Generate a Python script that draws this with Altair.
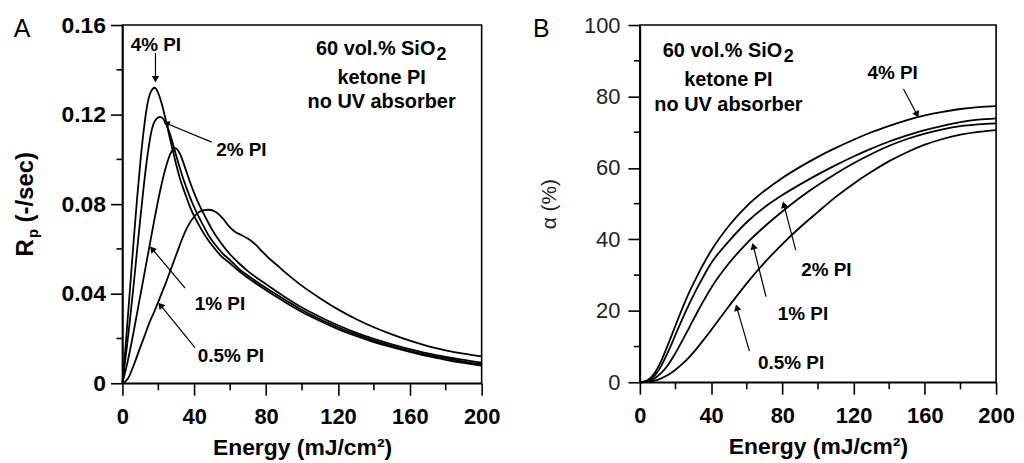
import math
import altair as alt
import pandas as pd

FONT = "Liberation Sans"

# ---------------- Panel A : Rp vs energy ----------------
E4A = [0, 2, 4, 6, 8, 10, 12, 14, 16, 18, 20, 22, 24, 26, 28, 30, 32, 35, 38, 42, 46, 50, 55,
       60, 65, 70, 80, 90, 100, 110, 120, 130, 140, 150, 160, 170, 180, 190, 200]
R4A = [0, 0.019, 0.040, 0.061, 0.081, 0.099, 0.114, 0.125, 0.1305, 0.132, 0.1295, 0.1245, 0.118,
       0.111, 0.104, 0.0975, 0.0915, 0.0845, 0.078, 0.0715, 0.066, 0.0615, 0.0568,
       0.0535, 0.050, 0.047, 0.0415, 0.0365, 0.0318, 0.0278, 0.0242, 0.0211, 0.0184, 0.0161,
       0.0140, 0.0121, 0.0105, 0.0091, 0.0079]

E2A = [0, 2, 4, 6, 8, 10, 12, 14, 16, 18, 21, 24, 27, 30, 33, 36, 40, 44, 48, 52, 56,
       60, 65, 70, 80, 90, 100, 110, 120, 130, 140, 150, 160, 170, 180, 190, 200]
R2A = [0, 0.013, 0.027, 0.042, 0.058, 0.074, 0.089, 0.102, 0.112, 0.117, 0.119, 0.1165, 0.110,
       0.1015, 0.0935, 0.0865, 0.0785, 0.072, 0.066, 0.0615, 0.0578,
       0.055, 0.051, 0.048, 0.0425, 0.0375, 0.0327, 0.0286, 0.0250, 0.0218, 0.0190, 0.0166,
       0.0145, 0.0127, 0.0111, 0.0097, 0.0085]

E1A = [0, 3, 6, 9, 12, 15, 18, 21, 24, 27, 29.5, 32, 35, 38, 42, 46, 50, 55,
       60, 65, 70, 80, 90, 100, 110, 120, 130, 140, 150, 160, 170, 180, 190, 200]
R1A = [0, 0.010, 0.022, 0.035, 0.048, 0.061, 0.074, 0.086, 0.096, 0.103, 0.105, 0.1025, 0.096,
       0.089, 0.081, 0.0745, 0.0685, 0.0625,
       0.0575, 0.0535, 0.050, 0.0442, 0.0388, 0.0338, 0.0296, 0.0259, 0.0226, 0.0198, 0.0174,
       0.0153, 0.0134, 0.0118, 0.0104, 0.0092]

E05A = [0, 3, 6, 9, 12, 15, 18, 21, 24, 27, 30, 33, 36, 40, 44, 48, 52, 56, 60, 63, 66, 70,
        74, 78, 82, 86, 90, 100, 110, 120, 130, 140, 150, 160, 170, 180, 190, 200]
R05A = [0, 0.002, 0.0075, 0.014, 0.0205, 0.027, 0.0325, 0.0385, 0.0445, 0.051, 0.0575, 0.064,
        0.0695, 0.0745, 0.077, 0.0775, 0.0765, 0.0735, 0.0695, 0.0675, 0.0663, 0.0645,
        0.062, 0.0587, 0.0555, 0.0528, 0.050, 0.0435, 0.0380, 0.0330, 0.0287, 0.0250, 0.0218,
        0.0190, 0.0166, 0.0147, 0.0132, 0.0120]

# ---------------- Panel B : conversion vs energy ----------------
EB = [0, 4, 8, 12, 16, 20, 24, 28, 32, 36, 40, 50, 60, 70, 80, 90, 100, 110, 120, 130, 140,
      150, 160, 170, 180, 190, 200]
C4B = [0, 0.5, 2.4, 6.0, 10.8, 15.9, 20.9, 25.5, 29.6, 33.4, 36.8, 43.8, 49.3, 53.6, 57.2,
       60.3, 63.1, 65.6, 67.9, 70.0, 71.8, 73.4, 74.7, 75.7, 76.5, 77.0, 77.3]
C2B = [0, 0.3, 1.7, 4.6, 8.7, 13.3, 17.9, 22.2, 26.2, 29.9, 33.3, 39.5, 44.8, 49.0, 52.4,
       55.4, 58.2, 60.8, 63.2, 65.4, 67.4, 69.1, 70.6, 71.8, 72.8, 73.5, 73.9]
C1B = [0, 0.2, 1.0, 2.6, 5.0, 8.2, 11.8, 15.6, 19.4, 23.0, 26.4, 33.3, 38.9, 43.6, 47.8,
       51.7, 55.2, 58.4, 61.3, 63.9, 66.2, 68.1, 69.6, 70.8, 71.7, 72.2, 72.5]
C05B = [0, 0.1, 0.4, 1.1, 2.1, 3.5, 5.2, 7.2, 9.5, 12.0, 14.6, 21.3, 27.7, 33.5, 38.7,
        43.4, 47.7, 51.9, 55.6, 58.9, 61.9, 64.4, 66.5, 68.1, 69.3, 70.1, 70.6]

SERIES = ["4% PI", "2% PI", "1% PI", "0.5% PI"]

# major / minor tick values
X_MAJOR = [0, 40, 80, 120, 160, 200]
X_MINOR = [20, 60, 100, 140, 180]
YA_MAJOR = [0, 0.04, 0.08, 0.12, 0.16]
YA_MINOR = [0.02, 0.06, 0.10, 0.14]
YB_MAJOR = [0, 20, 40, 60, 80, 100]
YB_MINOR = [10, 30, 50, 70, 90]

# annotation labels and arrows (x_from, y_from, x_tip, y_tip)
LAB_A_X = [18.6, 66.2, 54.3, 60.4]
LAB_A_Y = [0.1511, 0.1042, 0.0353, 0.0122]
ARR_A = [(18.4, 0.1475, 18.4, 0.1345), (49.7, 0.1077, 22.9, 0.1166),
         (34.9, 0.0425, 15.5, 0.0610), (40.4, 0.0159, 20.1, 0.0359)]

LAB_B_X = [141.9, 104.7, 91.6, 84.9]
LAB_B_Y = [86.5, 31.3, 19.1, 5.4]
ARR_B = [(148.0, 82.1, 156.4, 74.2), (87.5, 37.0, 80.4, 50.5),
         (70.8, 24.0, 63.3, 38.9), (61.5, 8.7, 54.0, 21.7)]

INFO = ["60 vol.% SiO", "ketone PI", "no UV absorber"]
INFO_SUB = ["2"]
INFO_A_X = [141.0, 144.3, 144.3]
INFO_A_Y = [0.1493, 0.1364, 0.1258]
INFO_A_SUB = (177.6, 0.1468)
INFO_B_X = [46.4, 49.7, 49.7]
INFO_B_Y = [92.8, 84.5, 77.6]
INFO_B_SUB = (83.6, 91.0)

WA, HA = 361, 360
WB, HB = 358, 359


def long_df(xs_list, ys_list):
    rows = []
    for name, xs, ys in zip(SERIES, xs_list, ys_list):
        for x, y in zip(xs, ys):
            rows.append({"series": name, "energy": x, "value": y})
    return pd.DataFrame(rows)


def arrow_df(arrows, sx, sy, back=4.0):
    rows = []
    for (x1, y1, x2, y2) in arrows:
        dxp = (x2 - x1) * sx
        dyp = -(y2 - y1) * sy
        L = math.hypot(dxp, dyp)
        ux, uy = dxp / L, dyp / L
        ang = math.degrees(math.atan2(ux, -uy)) % 360
        cx = x2 - ux * back / sx
        cy = y2 + uy * back / sy
        rows.append({"x1": x1, "y1": y1, "x2": cx, "y2": cy, "angle": ang})
    return pd.DataFrame(rows)


def x_axis():
    return alt.Axis(
        values=X_MAJOR, tickSize=12,
        title="Energy (mJ/cm\u00b2)", grid=False,
        domainColor="black", domainWidth=1.6, tickColor="black", tickWidth=1.6,
        labelFont=FONT, labelFontSize=22, labelFontWeight="bold", labelColor="black",
        labelPadding=11, labelFlush=False, labelOverlap=False,
        titleFont=FONT, titleFontSize=23, titleFontWeight="bold", titleColor="black",
        titlePadding=10,
    )


def text_layer(df, size, bold=True, **enc):
    return alt.Chart(df).mark_text(
        font=FONT, fontSize=size, fontWeight="bold" if bold else "normal",
        color="black", align="center", baseline="middle"
    ).encode(**enc)


def minor_ticks(xs, ys, xvals, yvals, h):
    tx = alt.Chart(pd.DataFrame({"v": xvals})).mark_rule(color="black", strokeWidth=1.6).encode(
        x=alt.X("v:Q", scale=xs), y=alt.value(h), y2=alt.value(h + 7))
    ty = alt.Chart(pd.DataFrame({"v": yvals})).mark_rule(color="black", strokeWidth=1.6).encode(
        y=alt.Y("v:Q", scale=ys), x=alt.value(-6), x2=alt.value(0))
    return [tx, ty]


def annotations(xs, ys, w, h, ymax, lab_x, lab_y, arrows, info_x, info_y, info_sub):
    arr = arrow_df(arrows, w / 200, h / ymax)
    shaft = alt.Chart(arr).mark_rule(color="black", strokeWidth=1.2).encode(
        x=alt.X("x1:Q", scale=xs), y=alt.Y("y1:Q", scale=ys), x2="x2:Q", y2="y2:Q")
    head = alt.Chart(arr).mark_point(shape="triangle", filled=True, size=55, color="black",
                                     opacity=1, strokeWidth=0).encode(
        x=alt.X("x2:Q", scale=xs), y=alt.Y("y2:Q", scale=ys),
        angle=alt.Angle("angle:Q", scale=None))
    lab = text_layer(pd.DataFrame({"t": SERIES, "x": lab_x, "y": lab_y}), 19,
                     x=alt.X("x:Q", scale=xs), y=alt.Y("y:Q", scale=ys), text="t:N")
    info = text_layer(pd.DataFrame({"t": INFO, "x": info_x, "y": info_y}), 20,
                      x=alt.X("x:Q", scale=xs), y=alt.Y("y:Q", scale=ys), text="t:N")
    sub = text_layer(pd.DataFrame({"t": INFO_SUB, "x": [info_sub[0]], "y": [info_sub[1]]}), 18,
                     x=alt.X("x:Q", scale=xs), y=alt.Y("y:Q", scale=ys), text="t:N")
    return [shaft, head, lab, info, sub]


def rot_text(t, size, xpx, ypx):
    return alt.Chart(pd.DataFrame({"t": [t]})).mark_text(
        font=FONT, fontSize=size, fontWeight="bold", color="black", angle=270,
        align="center", baseline="middle").encode(x=alt.value(xpx), y=alt.value(ypx), text="t:N")


# ---------- panel A ----------
xsA = alt.Scale(domain=[0, 200], nice=False, zero=False)
ysA = alt.Scale(domain=[0, 0.16], nice=False)
yaxisA = alt.Axis(
    values=YA_MAJOR, tickSize=12,
    labelExpr="datum.value == 0 ? '0' : format(datum.value, '.2f')",
    title=None, grid=False,
    domainColor="black", domainWidth=1.6, tickColor="black", tickWidth=1.6,
    labelFont=FONT, labelFontSize=23, labelFontWeight="bold", labelColor="black",
    labelPadding=5, labelFlush=False, labelOverlap=False,
)
dfA = long_df([E4A, E2A, E1A, E05A], [R4A, R2A, R1A, R05A])
linesA = alt.Chart(dfA).mark_line(color="black", strokeWidth=1.8, interpolate="monotone").encode(
    x=alt.X("energy:Q", scale=xsA, axis=x_axis()),
    y=alt.Y("value:Q", scale=ysA, axis=yaxisA),
    detail="series:N",
)
letterA = text_layer(pd.DataFrame({"t": ["A"]}), 25, bold=False,
                     x=alt.value(-101), y=alt.value(4), text="t:N")
titleA = [rot_text("R", 24, -97, 224), rot_text("p", 15, -89.5, 209.5),
          rot_text("(-/sec)", 24, -97, 163)]

panelA = alt.layer(
    linesA, *minor_ticks(xsA, ysA, X_MINOR, YA_MINOR, HA),
    *annotations(xsA, ysA, WA, HA, 0.16, LAB_A_X, LAB_A_Y, ARR_A, INFO_A_X, INFO_A_Y, INFO_A_SUB),
    letterA, *titleA
).properties(width=WA, height=HA)

# ---------- panel B ----------
xsB = alt.Scale(domain=[0, 200], nice=False, zero=False)
ysB = alt.Scale(domain=[0, 100], nice=False)
yaxisB = alt.Axis(
    values=YB_MAJOR, tickSize=12,
    title="\u03b1 (%)", grid=False,
    domainColor="black", domainWidth=1.6, tickColor="black", tickWidth=1.6,
    labelFont=FONT, labelFontSize=22, labelFontWeight="normal", labelColor="#222",
    labelPadding=8, labelFlush=False, labelOverlap=False,
    titleFont=FONT, titleFontSize=21, titleFontWeight="normal", titleColor="#222",
    titlePadding=24,
)
dfB = long_df([EB, EB, EB, EB], [C4B, C2B, C1B, C05B])
linesB = alt.Chart(dfB).mark_line(color="black", strokeWidth=1.8, interpolate="monotone").encode(
    x=alt.X("energy:Q", scale=xsB, axis=x_axis()),
    y=alt.Y("value:Q", scale=ysB, axis=yaxisB),
    detail="series:N",
)
letterB = text_layer(pd.DataFrame({"t": ["B"]}), 25, bold=False,
                     x=alt.value(-99), y=alt.value(4), text="t:N")

panelB = alt.layer(
    linesB, *minor_ticks(xsB, ysB, X_MINOR, YB_MINOR, HB),
    *annotations(xsB, ysB, WB, HB, 100, LAB_B_X, LAB_B_Y, ARR_B, INFO_B_X, INFO_B_Y, INFO_B_SUB),
    letterB
).properties(width=WB, height=HB)

chart = alt.hconcat(panelA, panelB, spacing=159, bounds="flush").properties(
    padding={"left": 4, "top": 4, "right": 0, "bottom": 0}
).configure_view(stroke="black", strokeWidth=1.6)

chart.save("out.html", embed_options={"renderer": "svg", "actions": False})
